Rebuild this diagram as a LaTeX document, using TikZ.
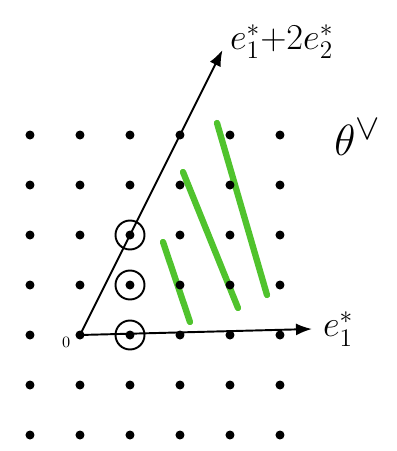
\documentclass[tikz,border=0pt]{standalone}
\usepackage{amsmath}
\usepackage{amssymb}
\usepackage{xcolor}
\usepackage{tikz}
\usetikzlibrary{positioning}
\usetikzlibrary{arrows.meta}

\definecolor{marker}{RGB}{80,195,45}

\begin{document}
\begin{tikzpicture}[x=1cm, y=1cm,
    dot/.style={circle, fill=black, inner sep=0pt, minimum size=1.8mm},
    ring/.style={draw, circle, line width=1.1pt, inner sep=0pt, minimum size=5.8mm},
    stroke/.style={marker, line width=3.6pt, line cap=round}]
			\useasboundingbox (-1.6,-2.32) rectangle (6.34,6.7);

			% green strokes
			\draw[stroke] (1.66,1.86) -- (2.2,0.26);
			\draw[stroke] (2.06,3.26) -- (3.16,0.54);
			\draw[stroke] (2.74,4.24) -- (3.74,0.8);

			% lattice
			\foreach \i in {-1,...,4} {
				\foreach \j in {-2,...,4} {
					\node[dot] (p\i\j) at (\i,\j) {};
				}
			}

			\node[ring] (c10) at (p10) {};
			\node[ring] (c11) at (p11) {};
			\node[ring] (c12) at (p12) {};

			\coordinate (tipa) at (4.64,0.12);
			\coordinate (tipb) at (2.85,5.7);
			\node[font=\huge, right=1mm of tipa] (ea) {$e_1^*$};
			\node[font=\huge, above right=-3mm and 0.3mm of tipb] (eb) {$e_1^*{+}2e_2^*$};
			\node[font=\Huge] (theta) at (5.55,3.95) {$\theta^\vee$};
			\node[font=\small, below left=-1.5mm and 0mm of p00] (zero) {$0$};

			\draw[-{Latex[length=3.2mm]}, line width=1.1pt] (p00.center) -- (tipa);
			\draw[-{Latex[length=3.2mm]}, line width=1.1pt] (p00.center) -- (tipb);
		\end{tikzpicture}
\end{document}
